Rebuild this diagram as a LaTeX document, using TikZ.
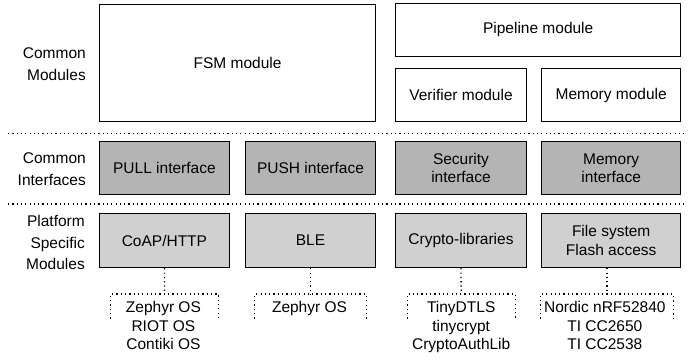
\documentclass[tikz,border=0pt]{standalone}
\usepackage{fontspec}
\setmainfont{Liberation Sans}
\definecolor{ifacegray}{HTML}{B4B4B4}
\definecolor{platgray}{HTML}{D0D0D0}
\begin{document}
\begin{tikzpicture}[x=1pt,y=-1pt,
  boxtext/.style={font=\fontsize{15.5}{18.3}\selectfont},
  block/.style={boxtext, draw, line width=1pt, inner sep=0pt, align=center},
  module/.style={block, fill=white},
  iface/.style={block, fill=ifacegray},
  plat/.style={block, fill=platgray},
  dots/.style={line width=1.3pt, dash pattern=on 1.2pt off 3.1pt},
  layer/.style={anchor=east, align=right, inner sep=0pt, font=\fontsize{15.5}{21.5}\selectfont},
  bracket/.style={inner sep=0pt, minimum height=24pt},
  oslist/.style={boxtext, anchor=north, align=center, inner sep=0pt}]
\useasboundingbox (0,0) rectangle (694,360);

% layer captions
\node[layer] (capA) at (86,64)    {Common\\Modules};
\node[layer] (capB) at (86,169)   {Common\\Interfaces};
\node[layer] (capC) at (85,242.5) {Platform\\Specific\\Modules};

% common modules
\node[module, minimum width=276pt, minimum height=117.5pt] (fsm) at (237.6,62.8) {FSM module};
\node[module, minimum width=285pt, minimum height=52.5pt] (pipe) at (538.2,29.8) {Pipeline module};
\node[module, minimum width=130.6pt, minimum height=53pt] (verif) at (461,95) {Verifier module};
\node[module, minimum width=139pt, minimum height=53pt] (memmod) at (611.2,95) {Memory module};

% separators between layers
\coordinate (sepAl) at (8,133.3);
\coordinate (sepAr) at (684,133.3);
\coordinate (sepBl) at (8,204);
\coordinate (sepBr) at (684,204);
\draw[dots] (sepAl) -- (sepAr);
\draw[dots] (sepBl) -- (sepBr);

% common interfaces
\node[iface, minimum width=129.8pt, minimum height=52.3pt] (pull) at (164.4,167.9) {PULL interface};
\node[iface, minimum width=130.4pt, minimum height=52.3pt] (push) at (310.5,167.9) {PUSH interface};
\node[iface, minimum width=130.6pt, minimum height=52.3pt] (secif) at (461,167.9) {Security\\interface};
\node[iface, minimum width=139pt, minimum height=52.3pt] (memif) at (611.2,167.9) {Memory\\interface};

% platform specific modules
\node[plat, minimum width=129.8pt, minimum height=54.4pt] (coap) at (164.4,240.5) {CoAP/HTTP};
\node[plat, minimum width=130.4pt, minimum height=54.4pt] (ble) at (310.5,240.5) {BLE};
\node[plat, minimum width=130.6pt, minimum height=54.4pt] (crypto) at (461,240.5) {Crypto-libraries};
\node[plat, minimum width=139pt, minimum height=54.4pt] (flash) at (611.2,240.5) {File system\\Flash access};

% open brackets holding the supported platforms
\node[bracket, minimum width=107.3pt] (brA) at (164.6,306.3) {};
\node[bracket, minimum width=111pt]   (brB) at (310.5,306.3) {};
\node[bracket, minimum width=107.7pt] (brC) at (461.2,306.3) {};
\node[bracket, minimum width=132.3pt] (brD) at (606.9,306.3) {};
\foreach \b in {brA,brB,brC,brD}
  \draw[dots] (\b.south west) -- (\b.north west) -- (\b.north east) -- (\b.south east);

\draw[dots] (coap.south)   -- (brA.north);
\draw[dots] (ble.south)    -- (brB.north);
\draw[dots] (crypto.south) -- (brC.north);
\draw[dots] (brD.north |- flash.south) -- (brD.north);

\node[oslist] (osA) at (163.4,301.3) {Zephyr OS\\RIOT OS\\Contiki OS};
\node[oslist] (osB) at (309.5,301.3) {Zephyr OS};
\node[oslist] (osC) at (461.2,301.3) {TinyDTLS\\tinycrypt\\CryptoAuthLib};
\node[oslist] (osD) at (604.8,301.3) {Nordic nRF52840\\TI CC2650\\TI CC2538};
\end{tikzpicture}
\end{document}
